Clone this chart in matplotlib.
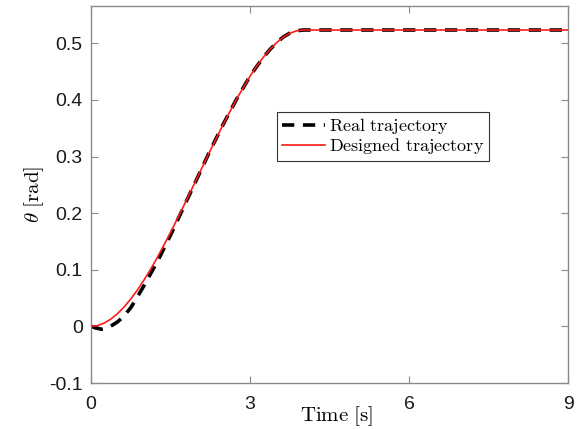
import matplotlib
matplotlib.use("Agg")
import matplotlib.pyplot as plt

plt.rcParams['mathtext.fontset'] = 'cm'
plt.rcParams['font.family'] = ['Liberation Sans', 'DejaVu Sans']

# 设计轨迹 (rad)
t_design = [0, 0.125, 0.25, 0.375, 0.5, 0.625, 0.75, 0.875, 1.0, 1.125,
            1.25, 1.5, 1.75, 2.0, 2.25, 2.5, 2.75, 3.0, 3.125, 3.25, 3.375,
            3.5, 3.625, 3.75, 3.875, 4.0, 9.0]
theta_design = [0, 0.0015, 0.0059, 0.0129, 0.0225, 0.0344, 0.0483, 0.0642,
                0.0818, 0.1010, 0.1214, 0.1657, 0.2130, 0.2618, 0.3106,
                0.3579, 0.4022, 0.4418, 0.4594, 0.4753, 0.4893, 0.5011,
                0.5107, 0.5177, 0.5221, 0.5236, 0.5236]

# 实际轨迹 (rad)
t_real = [0, 0.1, 0.2, 0.3, 0.4, 0.5, 0.6, 0.75, 0.875, 1.0, 1.125, 1.25,
          1.5, 1.75, 2.0, 2.25, 2.5, 2.75, 3.0, 3.125, 3.25, 3.375, 3.5,
          3.625, 3.75, 3.875, 4.0, 9.0]
theta_real = [0, -0.003, -0.005, -0.003, 0.002, 0.008, 0.016, 0.033, 0.052,
              0.072, 0.093, 0.114, 0.161, 0.211, 0.261, 0.311, 0.358, 0.402,
              0.442, 0.459, 0.475, 0.489, 0.501, 0.511, 0.518, 0.522, 0.5236,
              0.5236]

xticks = [0, 3, 6, 9]
yticks = [-0.1, 0, 0.1, 0.2, 0.3, 0.4, 0.5]

fig = plt.figure(figsize=(5.78, 4.29), dpi=100)
ax = fig.add_axes([0.1574, 0.1072, 0.8253, 0.8788])

ax.plot(t_real, theta_real, color='black', lw=2.6, dashes=(3.4, 2.4),
        label='Real trajectory', zorder=2)
ax.plot(t_design, theta_design, color='#ff1a1a', lw=1.2,
        label='Designed trajectory', zorder=3)

ax.set_xlim(0, 9)
ax.set_ylim(-0.1, 0.566)
ax.set_xticks(xticks)
ax.set_yticks(yticks)
ax.set_yticklabels(['-0.1', '0', '0.1', '0.2', '0.3', '0.4', '0.5'])

axis_gray = '#8a8a8a'
for sp in ax.spines.values():
    sp.set_color(axis_gray)
    sp.set_linewidth(1.0)
ax.tick_params(direction='in', length=5, width=0.8, color=axis_gray,
               labelsize=14, labelcolor='#1a1a1a', top=True, right=True)
ax.tick_params(axis='x', pad=9)
ax.tick_params(axis='y', pad=6)

ax.set_xlabel(r'$\mathrm{Time\ [s]}$', fontsize=15)
ax.xaxis.set_label_coords(0.514, -0.056)
ax.set_ylabel(r'$\theta\ \mathrm{[rad]}$', fontsize=15, labelpad=2)

leg = ax.legend(loc='center', bbox_to_anchor=(0.612, 0.655),
                prop={'family': 'serif', 'size': 13},
                fancybox=False, framealpha=1, edgecolor='#333333',
                handlelength=2.4, handletextpad=0.2, labelspacing=0.0,
                borderpad=0.25, borderaxespad=0)
leg.get_frame().set_linewidth(0.8)
for txt in leg.get_texts():
    txt.set_text(r'$\mathrm{' + txt.get_text().replace(' ', r'\ ') + '}$')

fig.savefig('out.png', dpi=100)
